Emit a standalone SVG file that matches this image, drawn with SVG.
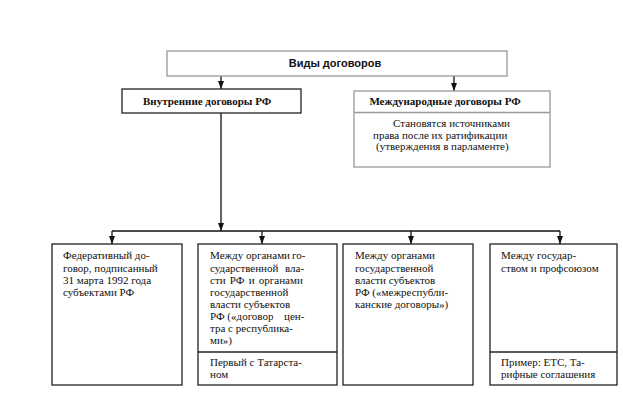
<svg xmlns="http://www.w3.org/2000/svg" width="623" height="411" viewBox="0 0 623 411">
<defs>
<style>
.bx{fill:#fff;stroke:#222;stroke-width:1.3}
.gb{fill:#fff;stroke:#999;stroke-width:1.3}
.ln{fill:none;stroke:#111;stroke-width:1.3}
.t{font-family:'Liberation Serif','DejaVu Serif',serif;font-size:11px;fill:#111}
.tb{font-family:'Liberation Serif','DejaVu Serif',serif;font-size:11px;font-weight:bold;fill:#111}
.ts{font-family:'Liberation Sans',Arial,sans-serif;font-size:11px;font-weight:bold;fill:#111}
</style>
<marker id="ar" markerUnits="userSpaceOnUse" markerWidth="8" markerHeight="8" viewBox="0 0 8 8" refX="8" refY="4" orient="auto">
<path d="M0,1 L8,4 L0,7 Z" fill="#111"/>
</marker>
</defs>
<rect width="623" height="411" fill="#fff"/>
<g id="connectors">
<path class="ln" d="M221 76 V89" marker-end="url(#ar)"/>
<path class="ln" d="M454 76 V91" marker-end="url(#ar)"/>
<path class="ln" d="M221 113 V231" marker-end="url(#ar)"/>
<path class="ln" d="M112 231 H560"/>
<path class="ln" d="M112 231 V244" marker-end="url(#ar)"/>
<path class="ln" d="M262 231 V244" marker-end="url(#ar)"/>
<path class="ln" d="M411 231 V244" marker-end="url(#ar)"/>
<path class="ln" d="M560 231 V244" marker-end="url(#ar)"/>
</g>
<g id="root">
<rect class="gb" x="167" y="51" width="340" height="25"/>
<text class="ts" x="335" y="67" text-anchor="middle">Виды договоров</text>
</g>
<g id="internal">
<rect class="bx" x="122" y="89" width="179" height="24"/>
<text class="tb" x="143" y="105">Внутренние договоры РФ</text>
</g>
<g id="international">
<rect class="gb" x="354" y="91" width="196" height="76"/>
<line class="gb" x1="354" y1="112.5" x2="550" y2="112.5"/>
<text class="tb" x="445" y="105" text-anchor="middle">Международные договоры РФ</text>
<text class="t" x="393" y="127">Становятся источниками</text>
<text class="t" x="373" y="138.5">права после их ратификации</text>
<text class="t" x="376" y="150">(утверждения в парламенте)</text>
</g>
<g id="federal">
<rect class="bx" x="52" y="244" width="130" height="141"/>
<text class="t" x="63" y="259">Федеративный до-</text>
<text class="t" x="63" y="271.5">говор, подписанный</text>
<text class="t" x="63" y="283.5">31 марта 1992 года</text>
<text class="t" x="63" y="296">субъектами РФ</text>
</g>
<g id="center-regions">
<rect class="bx" x="198" y="244" width="139" height="141"/>
<line class="bx" x1="198" y1="352" x2="337" y2="352"/>
<text class="t" y="259"><tspan x="210">Между органами</tspan> <tspan x="292">го-</tspan></text>
<text class="t" y="271.5"><tspan x="210">сударственной</tspan> <tspan x="285">вла-</tspan></text>
<text class="t" x="210" y="283.5" word-spacing="1.5">сти РФ и органами</text>
<text class="t" x="210" y="296">государственной</text>
<text class="t" x="210" y="308">власти субъектов</text>
<text class="t" y="320"><tspan x="210">РФ («договор</tspan> <tspan x="284">цен-</tspan></text>
<text class="t" x="210" y="332">тра с республика-</text>
<text class="t" x="210" y="344">ми»)</text>
<text class="t" x="210" y="366">Первый с Татарста-</text>
<text class="t" x="210" y="378">ном</text>
</g>
<g id="inter-regional">
<rect class="bx" x="343" y="244" width="130" height="141"/>
<text class="t" x="355" y="259">Между органами</text>
<text class="t" x="355" y="271.5">государственной</text>
<text class="t" x="355" y="283.5">власти субъектов</text>
<text class="t" x="355" y="296">РФ («межреспубли-</text>
<text class="t" x="355" y="308">канские договоры»)</text>
</g>
<g id="state-union">
<rect class="bx" x="490" y="244" width="127" height="141"/>
<line class="bx" x1="490" y1="352" x2="617" y2="352"/>
<text class="t" x="501" y="259">Между государ-</text>
<text class="t" x="501" y="271.5">ством и профсоюзом</text>
<text class="t" x="501" y="366">Пример: ЕТС, Та-</text>
<text class="t" x="501" y="378">рифные соглашения</text>
</g>
</svg>
